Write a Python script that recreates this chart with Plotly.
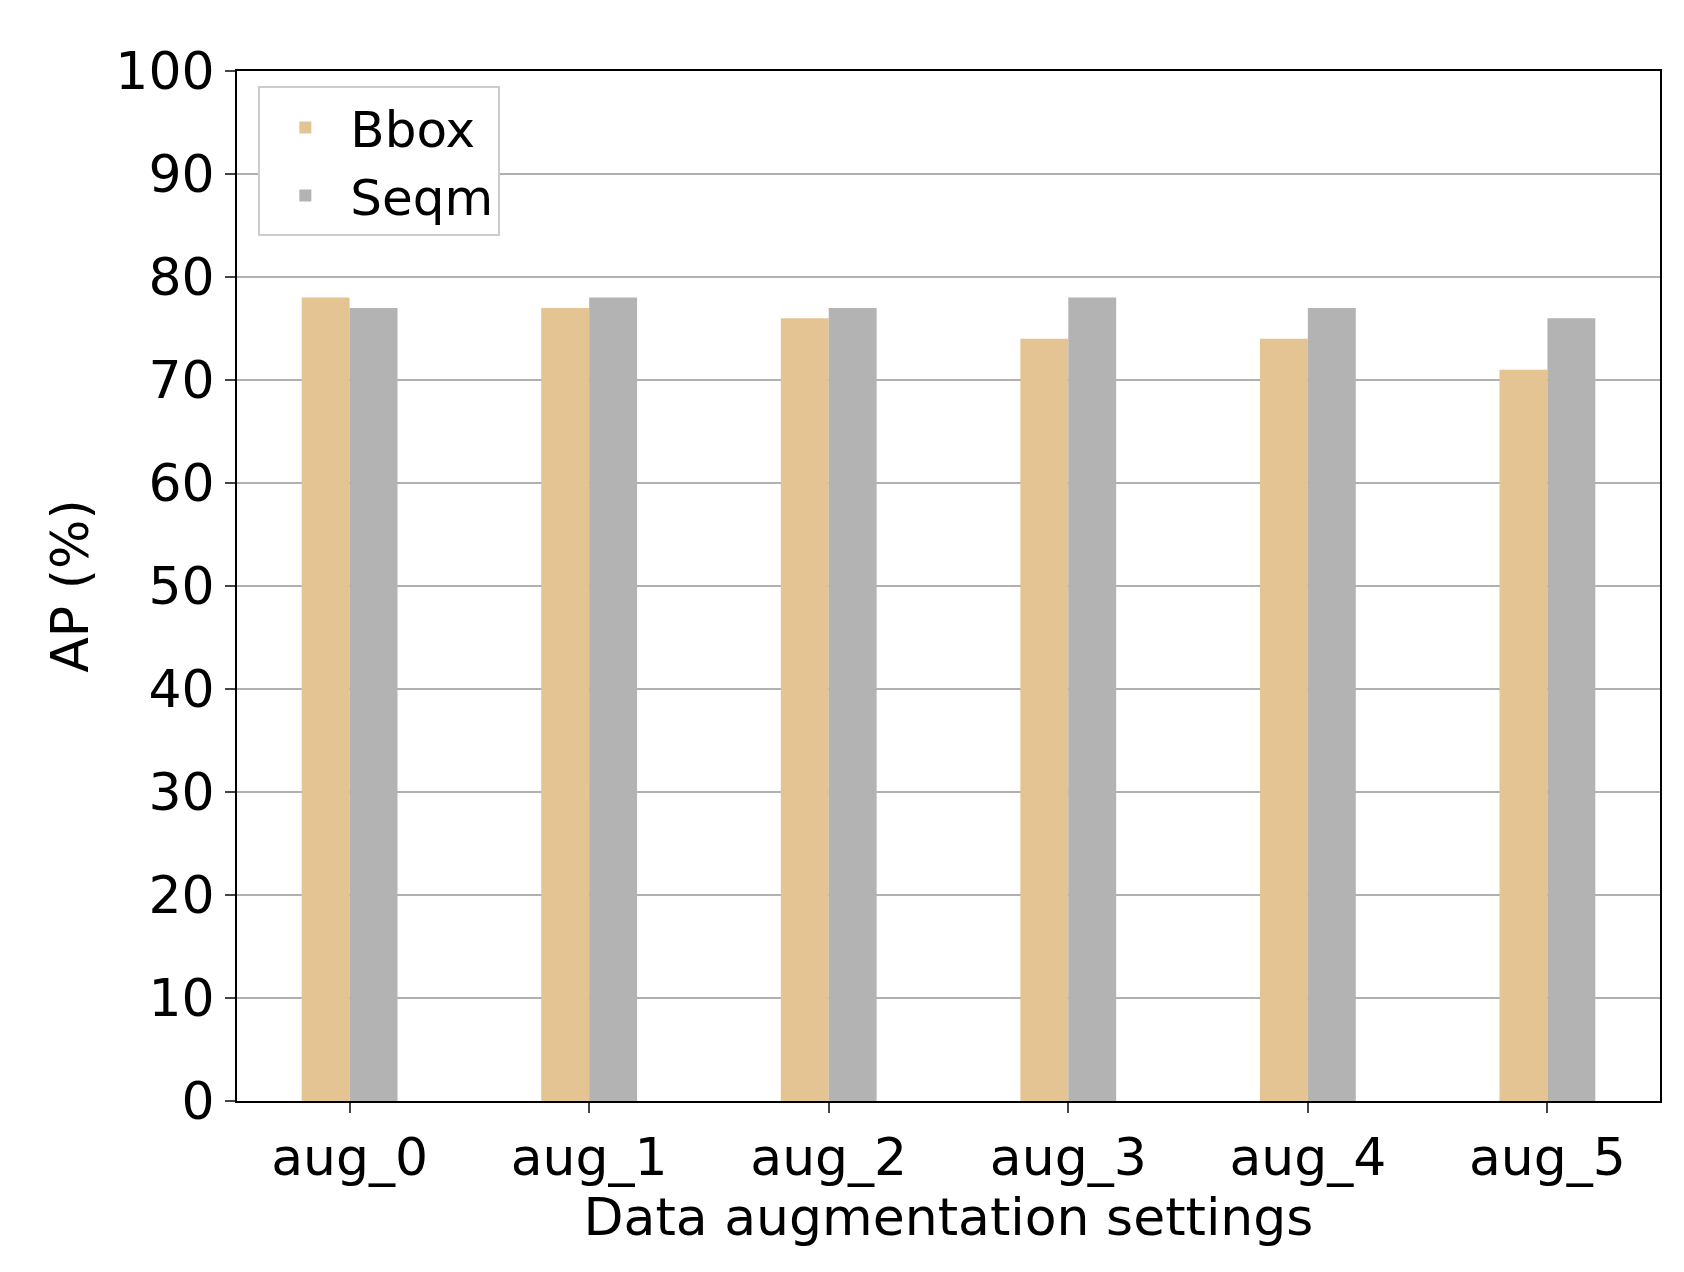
import plotly.graph_objects as go

categories = ["aug_0", "aug_1", "aug_2", "aug_3", "aug_4", "aug_5"]
bbox = [78, 77, 76, 74, 74, 71]
seqm = [77, 78, 77, 78, 77, 76]
yticks = [0, 10, 20, 30, 40, 50, 60, 70, 80, 90, 100]

fig = go.Figure()
fig.add_bar(x=categories, y=bbox, name="Bbox", marker_color="#E5C494", marker_line_width=0)
fig.add_bar(x=categories, y=seqm, name="Seqm", marker_color="#B3B3B3", marker_line_width=0)

font = dict(family="DejaVu Sans", size=52, color="black")
fig.update_layout(
    width=1684, height=1272, barmode="group", bargap=0.6, bargroupgap=0,
    plot_bgcolor="white", paper_bgcolor="white", font=font,
    margin=dict(l=229, r=32, t=63, b=179),
    legend=dict(x=0.015, y=0.985, xanchor="left", yanchor="top",
                bordercolor="#cccccc", borderwidth=2, bgcolor="white",
                itemwidth=80, tracegroupgap=10,
                font=dict(family="DejaVu Sans", size=50)),
    xaxis=dict(title=dict(text="Data augmentation settings", font=font, standoff=5),
               range=[-0.47, 5.47], showline=True, linecolor="black", linewidth=2,
               mirror=True, ticks="outside", ticklen=10, tickwidth=2, tickfont=font),
    yaxis=dict(title=dict(text="AP (%)", font=font, standoff=10),
               range=[0, 100], tickvals=yticks, showgrid=True, gridcolor="#b0b0b0",
               gridwidth=2, showline=True, linecolor="black", linewidth=2, mirror=True,
               ticks="outside", ticklen=10, tickwidth=2, tickfont=font, zeroline=False),
)
fig.write_html("out.html")
